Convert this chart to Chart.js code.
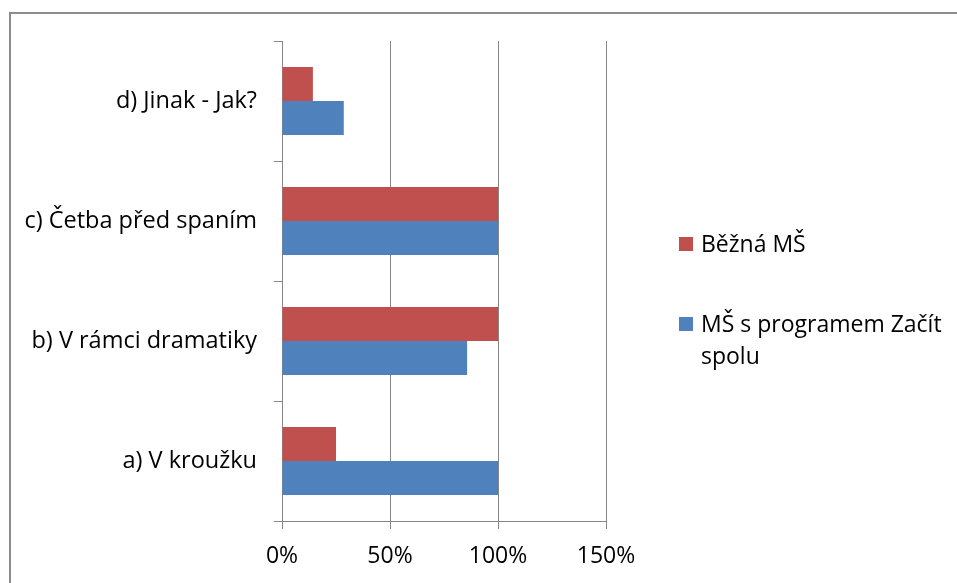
<!DOCTYPE html>
<html>
<head>
<meta charset="utf-8">
<script src="https://cdn.jsdelivr.net/npm/chart.js@4"></script>
<style>
    body { margin: 0; background: #fff; }
    #wrap { position: relative; width: 957px; height: 583px; overflow: hidden; }
    #frame { position: absolute; left: 9px; top: 12px; right: -10px; bottom: -10px;
             border-top: 2px solid #8c8c8c; border-left: 2px solid #8c8c8c; }
    canvas { position: absolute; left: 0; top: 0; }
    #legend { position: absolute; left: 679px; top: 227px; width: 272px;
              font-family: "Open Sans", sans-serif; font-size: 23px; color: #000; }
    .item { position: relative; padding-left: 22px; line-height: 32px; margin-bottom: 48px; }
    .box { position: absolute; left: 0; top: 10px; width: 14px; height: 14px; }
</style>
</head>
<body>
<div id="wrap">
    <div id="frame"></div>
    <canvas id="chart" width="957" height="583"></canvas>
    <div id="legend"></div>
</div>
<script>
// categories top to bottom
const categories = ['d) Jinak - Jak?', 'c) Četba před spaním', 'b) V rámci dramatiky', 'a) V kroužku'];
const seriesNames = ['Běžná MŠ', 'MŠ s programem Začít spolu'];
const bezna = [14.3, 100, 100, 25];
const zacitSpolu = [28.6, 100, 85.7, 100];
const xTicks = [0, 50, 100, 150];
const colors = ['#C0504D', '#4F81BD'];

const font = { family: 'Open Sans', size: 23 };
const gridColor = '#868686';

const chart = new Chart(document.getElementById('chart'), {
    type: 'bar',
    data: {
        labels: categories,
        datasets: [
            { label: seriesNames[0], data: bezna, backgroundColor: colors[0], borderWidth: 0 },
            { label: seriesNames[1], data: zacitSpolu, backgroundColor: colors[1], borderWidth: 0 }
        ]
    },
    options: {
        indexAxis: 'y',
        responsive: false,
        animation: false,
        devicePixelRatio: 1,
        layout: { padding: { top: 41, right: 351, bottom: 0, left: 0 } },
        datasets: { bar: { categoryPercentage: 0.567, barPercentage: 1 } },
        plugins: { legend: { display: false }, tooltip: { enabled: false } },
        scales: {
            x: {
                min: xTicks[0],
                max: xTicks[xTicks.length - 1],
                afterBuildTicks: s => { s.ticks = xTicks.map(v => ({ value: v })); },
                afterFit: s => { s.height = 62; },
                ticks: { font: font, color: '#000', padding: 14, callback: v => v + '%' },
                grid: { color: gridColor, tickLength: 8 },
                border: { color: gridColor }
            },
            y: {
                afterFit: s => { s.width = 282; },
                ticks: { font: { family: 'Open Sans', size: 23.5 }, color: '#000', padding: 17 },
                grid: { color: gridColor, drawOnChartArea: false, tickLength: 8, offset: true },
                border: { color: gridColor }
            }
        }
    }
});

// legend
const legendEl = document.getElementById('legend');
seriesNames.forEach((name, i) => {
    const item = document.createElement('div');
    item.className = 'item';
    item.innerHTML = '<span class="box" style="background:' + colors[i] + '"></span>' + name;
    legendEl.appendChild(item);
});
</script>
</body>
</html>
